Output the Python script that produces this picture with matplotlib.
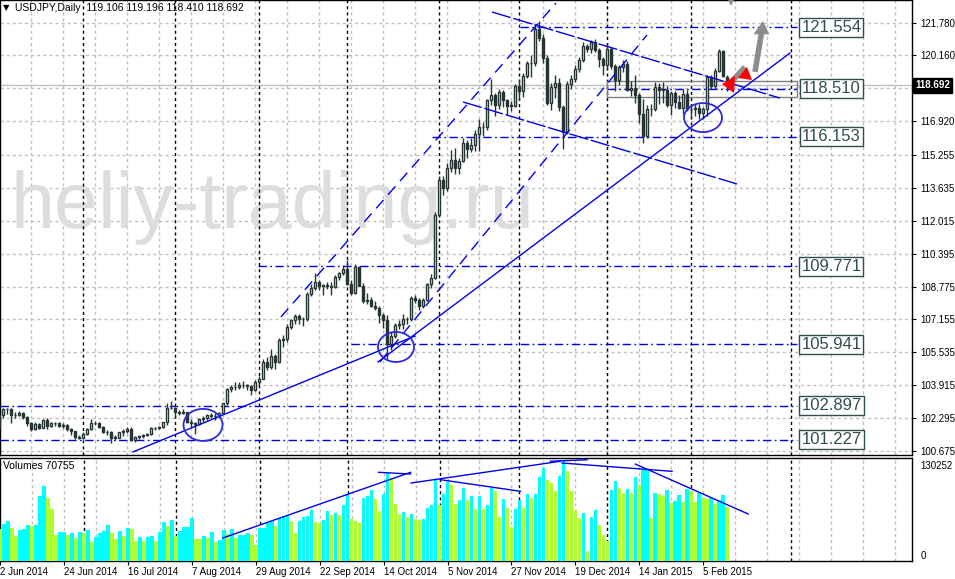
import matplotlib.pyplot as plt
import numpy as np
import pandas as pd
from matplotlib.patches import Ellipse, Polygon, Rectangle
from matplotlib.transforms import blended_transform_factory as blend

plt.rcParams['font.family'] = ['Liberation Sans', 'DejaVu Sans']

# trading days shown on the chart (no bars on Christmas / New Year)
dates = pd.bdate_range('2014-06-02', '2015-02-13')
dates = dates[~dates.isin(pd.to_datetime(['2014-12-25', '2015-01-01']))]

opens = [
    101.80, 102.47, 102.72, 102.73, 102.43, 102.45, 102.55, 102.33, 102.06, 101.75, 102.02,
    101.83, 102.21, 101.90, 102.03, 102.04, 101.93, 101.96, 101.77, 101.65, 101.36,
    101.33, 101.52, 101.75, 102.06, 102.05, 101.87, 101.62, 101.61, 101.33, 101.34, 101.59,
    101.67, 101.76, 101.24, 101.35, 101.43, 101.48, 101.49, 101.80, 101.82, 101.85, 102.08, 102.80,
    102.81, 102.58, 102.57, 102.58, 102.12, 102.05, 102.02, 102.25, 102.29, 102.45, 102.39,
    102.38, 102.55, 103.02, 103.75, 103.84, 103.83, 103.92, 103.91, 103.87, 103.69,
    104.05, 104.24, 105.07, 104.79, 105.37, 105.08, 106.14, 106.19, 106.80, 107.11, 107.34,
    107.19, 107.17, 108.42, 108.70, 109.02, 108.79, 108.84, 108.82, 108.75, 109.27, 109.43,
    109.65, 108.92, 108.46, 109.75, 108.82, 108.08, 108.12, 107.83, 107.74, 107.35, 107.12,
    105.95, 106.36, 106.88, 106.93, 107.19, 107.16, 108.21, 108.13, 107.80, 108.12, 108.88, 109.22,
    112.31, 114.01, 113.62, 114.61, 115.00, 114.60, 114.98, 115.83, 115.53, 115.75,
    116.29, 116.62, 116.65, 117.96, 118.22, 117.73, 118.38, 117.96, 117.69, 117.68,
    118.64, 118.39, 119.17, 119.78, 119.78, 121.44, 121.04, 120.05, 117.84, 118.62, 118.79,
    117.63, 116.40, 118.77, 119.00, 119.49, 119.95, 120.64, 120.50, 120.82, 120.44, 119.97,
    119.67, 120.48, 119.65, 118.93, 119.58, 119.75, 118.46, 118.54, 118.19, 117.26, 116.21,
    117.52, 117.53, 118.62, 118.48, 118.47, 117.74, 118.31, 117.87, 117.59, 118.27,
    117.50, 117.53, 117.59, 117.32, 117.50, 119.12, 118.66, 119.40, 120.37, 119.106,
]
highs = [
    102.53, 102.80, 102.80, 102.80, 102.62, 102.67, 102.60, 102.38, 102.12, 102.10, 102.05,
    102.25, 102.30, 102.10, 102.10, 102.08, 102.04, 102.00, 101.80, 101.68, 101.45,
    101.60, 101.82, 102.27, 102.15, 102.08, 101.92, 101.70, 101.65, 101.45, 101.62, 101.75,
    101.88, 101.85, 101.40, 101.45, 101.53, 101.58, 101.85, 101.86, 101.90, 102.12, 103.05, 103.15,
    102.85, 102.70, 102.75, 102.62, 102.25, 102.10, 102.30, 102.40, 102.50, 102.55, 102.55,
    102.60, 103.05, 103.80, 103.95, 104.05, 104.05, 104.10, 104.00, 103.95, 104.15,
    104.35, 105.20, 105.30, 105.70, 105.45, 106.25, 106.40, 106.95, 107.20, 107.40, 107.40,
    107.30, 108.50, 108.90, 109.45, 109.10, 108.90, 109.00, 109.00, 109.35, 109.50, 109.85,
    110.09, 109.10, 109.90, 109.80, 108.95, 108.45, 108.25, 108.05, 107.80, 107.45, 107.35,
    106.55, 107.00, 107.15, 107.40, 107.30, 108.30, 108.35, 108.20, 108.20, 108.95, 109.40, 112.47,
    114.20, 114.20, 114.85, 115.50, 115.60, 115.10, 116.10, 116.00, 116.10, 116.50,
    117.05, 116.90, 118.00, 118.98, 118.30, 118.50, 118.45, 118.00, 117.90, 118.75,
    119.00, 119.30, 119.90, 120.20, 121.70, 121.85, 121.20, 120.20, 118.80, 119.20, 119.05,
    117.70, 118.90, 119.20, 119.70, 120.10, 120.80, 120.70, 120.90, 120.95, 120.55, 120.10,
    120.75, 120.60, 119.75, 119.70, 119.95, 119.90, 118.90, 119.20, 118.30, 118.00, 117.70,
    117.75, 118.85, 118.80, 118.85, 118.65, 118.40, 118.40, 118.20, 118.50, 118.45,
    117.70, 117.75, 117.75, 117.60, 119.20, 119.20, 119.55, 120.48, 120.45, 119.196,
]
lows = [
    101.72, 102.30, 102.50, 102.03, 102.30, 102.38, 102.27, 101.92, 101.65, 101.70, 101.75,
    101.80, 101.75, 101.85, 101.90, 101.85, 101.80, 101.66, 101.48, 101.25, 101.25,
    101.25, 101.45, 101.70, 101.95, 101.80, 101.55, 101.48, 101.07, 101.20, 101.30, 101.40,
    101.55, 101.18, 101.10, 101.25, 101.30, 101.40, 101.45, 101.70, 101.75, 101.80, 101.98, 102.75,
    102.30, 102.45, 102.50, 102.05, 101.85, 101.51, 101.95, 102.10, 102.20, 102.30, 102.20,
    102.30, 102.50, 102.95, 103.60, 103.70, 103.75, 103.80, 103.70, 103.45, 103.65,
    103.95, 104.20, 104.65, 104.70, 104.70, 105.00, 105.80, 106.05, 106.70, 106.95, 106.95,
    106.85, 107.10, 108.30, 108.60, 108.60, 108.35, 108.65, 108.35, 108.70, 109.10, 109.35,
    108.85, 108.35, 108.40, 108.80, 107.95, 107.90, 107.75, 107.60, 107.00, 106.75, 105.20,
    105.65, 106.25, 106.70, 106.70, 106.95, 107.10, 107.95, 107.60, 107.70, 108.05, 108.70, 109.15,
    112.20, 113.30, 113.50, 114.40, 114.30, 114.30, 114.90, 115.10, 115.40, 115.45,
    115.45, 116.20, 116.50, 117.70, 117.20, 117.50, 117.60, 117.25, 117.40, 117.60,
    117.95, 118.10, 119.05, 119.10, 119.65, 120.85, 119.80, 117.70, 117.45, 118.05, 117.40,
    115.57, 116.30, 118.50, 118.85, 119.35, 119.85, 120.35, 120.30, 120.35, 119.60, 119.20,
    119.50, 119.50, 118.40, 118.70, 119.35, 118.40, 118.15, 117.80, 116.85, 115.85, 116.10,
    117.20, 117.40, 117.75, 117.80, 117.60, 117.25, 117.55, 117.50, 117.30, 117.40,
    117.05, 117.20, 117.05, 117.05, 117.20, 118.50, 118.50, 119.35, 119.10, 118.410,
]
closes = [
    102.47, 102.72, 102.73, 102.43, 102.45, 102.55, 102.33, 102.06, 101.75, 102.02, 101.83,
    102.21, 101.90, 102.03, 102.04, 101.93, 101.96, 101.77, 101.65, 101.36, 101.33,
    101.52, 101.75, 102.06, 102.05, 101.87, 101.62, 101.61, 101.33, 101.34, 101.59, 101.67,
    101.76, 101.24, 101.35, 101.43, 101.48, 101.49, 101.80, 101.82, 101.85, 102.08, 102.80, 102.81,
    102.58, 102.57, 102.58, 102.12, 102.05, 102.02, 102.25, 102.29, 102.45, 102.39, 102.38,
    102.55, 103.02, 103.75, 103.84, 103.83, 103.92, 103.91, 103.87, 103.69, 104.05,
    104.24, 105.07, 104.79, 105.37, 105.08, 106.14, 106.19, 106.80, 107.11, 107.34, 107.19,
    107.17, 108.42, 108.70, 109.02, 108.79, 108.84, 108.82, 108.75, 109.27, 109.43, 109.65,
    108.92, 108.46, 109.75, 108.82, 108.08, 108.12, 107.83, 107.74, 107.35, 107.12, 105.95,
    106.36, 106.88, 106.93, 107.19, 107.16, 108.21, 108.13, 107.80, 108.12, 108.88, 109.22, 112.31,
    114.01, 113.62, 114.61, 115.00, 114.60, 114.98, 115.83, 115.53, 115.75, 116.29,
    116.62, 116.65, 117.96, 118.22, 117.73, 118.38, 117.96, 117.69, 117.68, 118.64,
    118.39, 119.17, 119.78, 119.78, 121.44, 121.04, 120.05, 117.84, 118.62, 118.79, 117.63,
    116.40, 118.77, 119.00, 119.49, 119.95, 120.64, 120.50, 120.82, 120.44, 119.97, 119.67,
    120.48, 119.65, 118.93, 119.58, 119.75, 118.46, 118.54, 118.19, 117.26, 116.21, 117.52,
    117.53, 118.62, 118.48, 118.47, 117.74, 118.31, 117.87, 117.59, 118.27, 117.50,
    117.53, 117.59, 117.32, 117.50, 119.12, 118.66, 119.40, 120.37, 119.13, 118.692,
]
volumes = [
    41700, 48200, 52500, 43000, 33000, 40800, 41700, 46900, 45600, 46900,
    85100, 97700, 82100, 67700, 33900, 37800, 38200, 33900, 36500, 30000,
    37800, 36500, 40400, 24700, 31300, 36500, 39500, 46900, 36500, 28700,
    39100, 32600, 43000, 41700, 26100, 31300, 26100, 31300, 32600, 26100,
    37800, 50800, 45600, 53400, 32600, 39100, 44300, 44500, 56000, 28700,
    28500, 32600, 30000, 37800, 24700, 27400, 40400, 35200, 41700, 30000,
    33900, 34100, 36500, 33900, 20800, 43000, 43200, 49500, 52100, 45600,
    56000, 58600, 59900, 52100, 36500, 52100, 57300, 58600, 66400, 50800,
    49500, 53400, 65100, 59900, 62500, 59900, 72900, 87700, 54700, 52000,
    50000, 82100, 85100, 92500, 80800, 65600, 87300, 114200, 108100, 74700,
    61200, 63800, 57300, 61200, 54700, 53800, 55100, 69000, 72900, 106800,
    72900, 87300, 102900, 99400, 74200, 79400, 95100, 79400, 84700, 67700,
    84700, 67700, 72900, 95500, 91200, 57800, 80800, 69000, 44300, 67700,
    79400, 69000, 87700, 82100, 87300, 109400, 121100, 105900, 101600, 90700,
    110300, 130252, 116800, 90700, 66900, 56000, 62500, 12600, 56900, 66000,
    47300, 34300, 25600, 92500, 104200, 94700, 89000, 93400, 88200, 109800,
    99000, 118500, 120000, 55600, 89000, 87300, 85000, 92500, 75100, 78000,
    86000, 77000, 93400, 91200, 77300, 88600, 82100, 81200, 82100, 74700,
    79900, 86000, 70755,
]
n = len(closes)
assert len(opens) == len(highs) == len(lows) == len(volumes) == len(dates) == n

# right price scale
price_ticks = [100.675, 102.295, 103.915, 105.535, 107.155, 108.775, 110.395,
               112.015, 113.635, 115.255, 116.920, 120.160, 121.780]
hidden_grid = [118.540]
bid = 118.692

# horizontal levels drawn by hand (start bar, price)
levels = [121.554, 118.510, 116.153, 109.771, 105.941, 102.897, 101.227]
level_start = [130.25, 152, 108.25, 64.75, 88, 0.25, 0.25]
level_end = 199.5
label_at = 208.1
zone = [152, 199.5, 118.11, 118.90]

# trend lines: (bar0, price0, bar1, price1)
solid_lines = [(33.5, 100.63, 104.0, 106.34), (94.75, 105.06, 197.75, 120.28)]
channel_up = [(70.5, 107.28, 139.25, 122.74), (95.25, 105.06, 162.0, 121.17)]
channel_down = [(123.25, 122.30, 195.25, 118.06), (116.0, 117.87, 184.5, 113.83)]
circles = [(51.0, 101.96, 9.75, 1.58), (99.25, 105.80, 9.0, 1.48), (176.0, 117.10, 9.5, 1.43)]
vol_lines = [(55.75, 29960, 102.75, 115500), (94.75, 115500, 102.75, 113300),
             (102.9, 101600, 140.25, 129900), (110.25, 105900, 130.25, 90800),
             (137.75, 129900, 146.9, 131900), (140.7, 127600, 168.2, 116800),
             (159.0, 126300, 187.25, 61200)]
red_heads = [[(180.75, 118.75), (184.0, 119.15), (183.75, 118.31)],
             [(184.75, 119.05), (187.0, 119.59), (188.25, 118.95)]]
grey_shafts = [(183.5, 118.95, 186.5, 119.59), (189.0, 119.35, 190.6, 121.25)]
grey_heads = [[(188.6, 121.20), (192.6, 121.20), (191.0, 121.86)],
              [(181.5, 123.2), (184.5, 123.2), (183.0, 122.60)]]
extra_vline = 198

W, H = 955, 579
fig = plt.figure(figsize=(W / 100, H / 100), dpi=100)
ax = fig.add_axes([0, (H - 455) / H, 912 / W, 455 / H])
axv = fig.add_axes([0, 18 / H, 912 / W, 103 / H])

x = np.arange(n)
o, h, l, c = map(np.array, (opens, highs, lows, closes))
grid_kw = dict(color='#c0c0c0', lw=1, dashes=(2.2, 2.2), zorder=0)
sep_kw = dict(color='black', lw=1, dashes=(2.2, 2.2), zorder=1)
months = [i for i in range(1, n) if dates[i].month != dates[i - 1].month] + [extra_vline]

for a in (ax, axv):
    a.set_xlim(0.25, 228.25)
    a.set_facecolor('white')
    for g in range(8, 229, 8):
        a.axvline(g, **grid_kw)
    for m in months:
        a.axvline(m, **sep_kw)
    for s in a.spines.values():
        s.set_color('black')
        s.set_linewidth(1)

# ---- price panel
ax.set_ylim(100.478, 122.892)
for p in price_ticks + hidden_grid:
    ax.axhline(p, **grid_kw)
ax.axhline(bid, color='#c0c0c0', lw=1, zorder=1)

ax.text(10 / 912, 0.499, 'heliy-trading.ru', transform=ax.transAxes, fontsize=57,
        color='#dddddd', ha='left', va='baseline', zorder=0.5, family='Liberation Sans')

cc = '#263434'
up = c >= o
ax.vlines(x, l, h, color=cc, lw=1, zorder=3)
ax.bar(x, np.maximum(np.abs(c - o), 0.015), bottom=np.minimum(o, c), width=0.55,
       color=np.where(up, 'white', cc), edgecolor=cc, linewidth=1, zorder=4)

blue = '#0000ee'
for lv, st in zip(levels, level_start):
    ax.plot([st, level_end], [lv, lv], color=blue, lw=1, dashes=(6, 2.5, 1.2, 2.5), zorder=2)
    ax.text(label_at, lv, f'{lv:.3f}', ha='center', va='center', fontsize=12, color='#2f4f4f',
            zorder=6, bbox=dict(boxstyle='square,pad=0.12', fc='white', ec='#2f4f4f', lw=1))
ax.add_patch(Rectangle((zone[0], zone[2]), zone[1] - zone[0], zone[3] - zone[2],
                       fill=False, ec='#808080', lw=1, zorder=2))

for x0, y0, x1, y1 in solid_lines:
    ax.plot([x0, x1], [y0, y1], color=blue, lw=1, zorder=5)
for x0, y0, x1, y1 in channel_up:
    ax.plot([x0, x1], [y0, y1], color=blue, lw=1, dashes=(8, 5), zorder=5)
for x0, y0, x1, y1 in channel_down:
    ax.plot([x0, x1], [y0, y1], color=blue, lw=1, dashes=(14, 2), zorder=5)
for cx, cy, w, hh in circles:
    ax.add_patch(Ellipse((cx, cy), w, hh, fill=False, ec='#2b2bdd', lw=1.3, zorder=5))

for x0, y0, x1, y1 in grey_shafts:
    ax.plot([x0, x1], [y0, y1], color='#8c8c8c', lw=4, solid_capstyle='butt', zorder=6)
for pts in grey_heads:
    ax.add_patch(Polygon(pts, closed=True, fc='#8c8c8c', ec='none', zorder=6))
for pts in red_heads:
    ax.add_patch(Polygon(pts, closed=True, fc='#ff0000', ec='none', zorder=7))

ax.yaxis.tick_right()
ax.set_yticks(price_ticks)
ax.set_yticklabels([f'{p:.3f}' for p in price_ticks])
ax.tick_params(axis='y', labelsize=7, length=3, pad=3, colors='black')
ax.tick_params(axis='x', bottom=False, labelbottom=False)
ax.text(1 + 3 / 912, bid, f'{bid:.3f}', transform=blend(ax.transAxes, ax.transData),
        ha='left', va='center', fontsize=7, color='white', fontweight='bold', clip_on=False,
        bbox=dict(boxstyle='square,pad=0.25', fc='black', ec='black'))

ax.text(3 / 912, 1 - 8 / 455, '\u25bc', transform=ax.transAxes, fontsize=6,
        va='center', ha='left', family='DejaVu Sans')
ax.text(15 / 912, 1 - 8 / 455,
        f'USDJPY,Daily  {opens[-1]:.3f} {highs[-1]:.3f} {lows[-1]:.3f} {closes[-1]:.3f}',
        transform=ax.transAxes, fontsize=7.5, va='center', ha='left')

# ---- volume panel
vols = np.array(volumes)
vcol = ['#adff2f'] + ['#00ffff' if vols[i] > vols[i - 1] else '#adff2f' for i in range(1, n)]
axv.set_ylim(0, 134158)
axv.bar(x, vols, width=0.9, color=vcol, zorder=3)
for x0, y0, x1, y1 in vol_lines:
    axv.plot([x0, x1], [y0, y1], color=blue, lw=1, zorder=5)
axv.yaxis.tick_right()
axv.set_yticks([0, max(volumes)])
axv.set_yticklabels(['0', str(max(volumes))])
axv.tick_params(axis='y', labelsize=7, length=0, pad=6)
lab = axv.get_yticklabels()
lab[0].set_va('bottom')
lab[1].set_va('top')
axv.set_xticks(range(0, n, 16))
axv.set_xticklabels([])
axv.tick_params(axis='x', length=3, direction='out')
for k in range(0, n, 16):
    axv.text(k, -0.105, dates[k].strftime('%-d %b %Y'), transform=blend(axv.transData, axv.transAxes),
             ha='left', va='center', fontsize=7, clip_on=False)
axv.text(3 / 912, 0.92, f'Volumes {volumes[-1]}', transform=axv.transAxes,
         fontsize=7.5, va='center', ha='left')

fig.savefig('out.png', dpi=100)
